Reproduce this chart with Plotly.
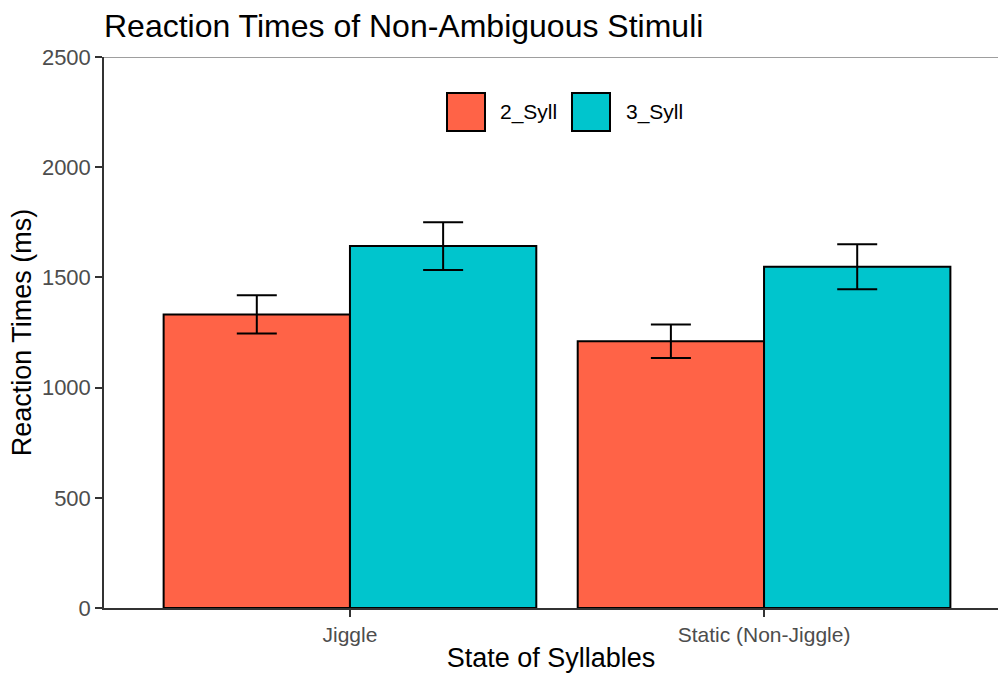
import plotly.graph_objects as go

# ---- data ----
categories = ["Jiggle", "Static (Non-Jiggle)"]
series_names = ["2_Syll", "3_Syll"]
means_2syll = [1332, 1210]
means_3syll = [1642, 1548]
err_2syll = [87, 76]
err_3syll = [108, 102]
y_ticks = [0, 500, 1000, 1500, 2000, 2500]

colors = {"2_Syll": "#FF6347", "3_Syll": "#00C5CD"}
FONT = "Liberation Sans, Arial, sans-serif"

fig = go.Figure()
for name, vals, errs in [("2_Syll", means_2syll, err_2syll),
                         ("3_Syll", means_3syll, err_3syll)]:
    fig.add_trace(go.Bar(
        x=categories, y=vals, name=name,
        marker=dict(color=colors[name], line=dict(color="black", width=2)),
        error_y=dict(type="data", array=errs, visible=True,
                     color="black", thickness=2, width=20),
        showlegend=False,
    ))

# plot-area geometry (pixels) used for the hand-drawn legend
L, R, T, B = 104, 998, 57, 608
W, H = R - L, B - T
def px(x):
    return (x - L) / W
def py(y):
    return (B - y) / H

shapes = [
    # top border line
    dict(type="line", xref="paper", yref="y", x0=0, x1=1, y0=2500, y1=2500,
         line=dict(color="#9E9E9E", width=2)),
]
annotations = []
legend_items = [("2_Syll", 447, 498), ("3_Syll", 572, 624)]
for name, bx, tx in legend_items:
    shapes.append(dict(type="rect", xref="paper", yref="paper",
                       x0=px(bx), x1=px(bx + 38), y0=py(131), y1=py(93),
                       fillcolor=colors[name], line=dict(color="black", width=2)))
    annotations.append(dict(text=name, xref="paper", yref="paper",
                            x=px(tx), y=py(112), xanchor="left", yanchor="middle",
                            showarrow=False, font=dict(family=FONT, size=21, color="black")))

fig.update_layout(
    width=999, height=673,
    margin=dict(l=L, r=999 - R, t=T, b=673 - B),
    paper_bgcolor="white", plot_bgcolor="white",
    barmode="group", bargap=0.1, bargroupgap=0,
    title=dict(text="Reaction Times of Non-Ambiguous Stimuli",
               font=dict(family=FONT, size=32, color="black"),
               xref="paper", x=0, xanchor="left",
               yref="container", y=1 - 26 / 673, yanchor="middle"),
    font=dict(family=FONT),
    shapes=shapes, annotations=annotations,
    showlegend=False,
)
fig.update_xaxes(
    type="category", range=[-0.594, 1.565], automargin=False,
    showline=True, linecolor="#333333", linewidth=1.5,
    ticks="outside", ticklen=7, tickcolor="#333333", tickwidth=1.5,
    tickfont=dict(family=FONT, size=21, color="#4D4D4D"),
    title=dict(text="State of Syllables", font=dict(family=FONT, size=27, color="black"),
               standoff=4),
    showgrid=False, zeroline=False,
)
fig.update_yaxes(
    range=[0, 2500], tickvals=y_ticks, automargin=False,
    showline=True, linecolor="#333333", linewidth=1.5,
    ticks="outside", ticklen=7, tickcolor="#333333", tickwidth=1.5,
    tickfont=dict(family=FONT, size=22, color="#4D4D4D"),
    title=dict(text="Reaction Times (ms)", font=dict(family=FONT, size=27, color="black"),
               standoff=2),
    showgrid=False, zeroline=False,
)

fig.write_html("out.html", config={"displayModeBar": False},
               post_script="document.body.style.margin='0';document.body.style.padding='0';")
